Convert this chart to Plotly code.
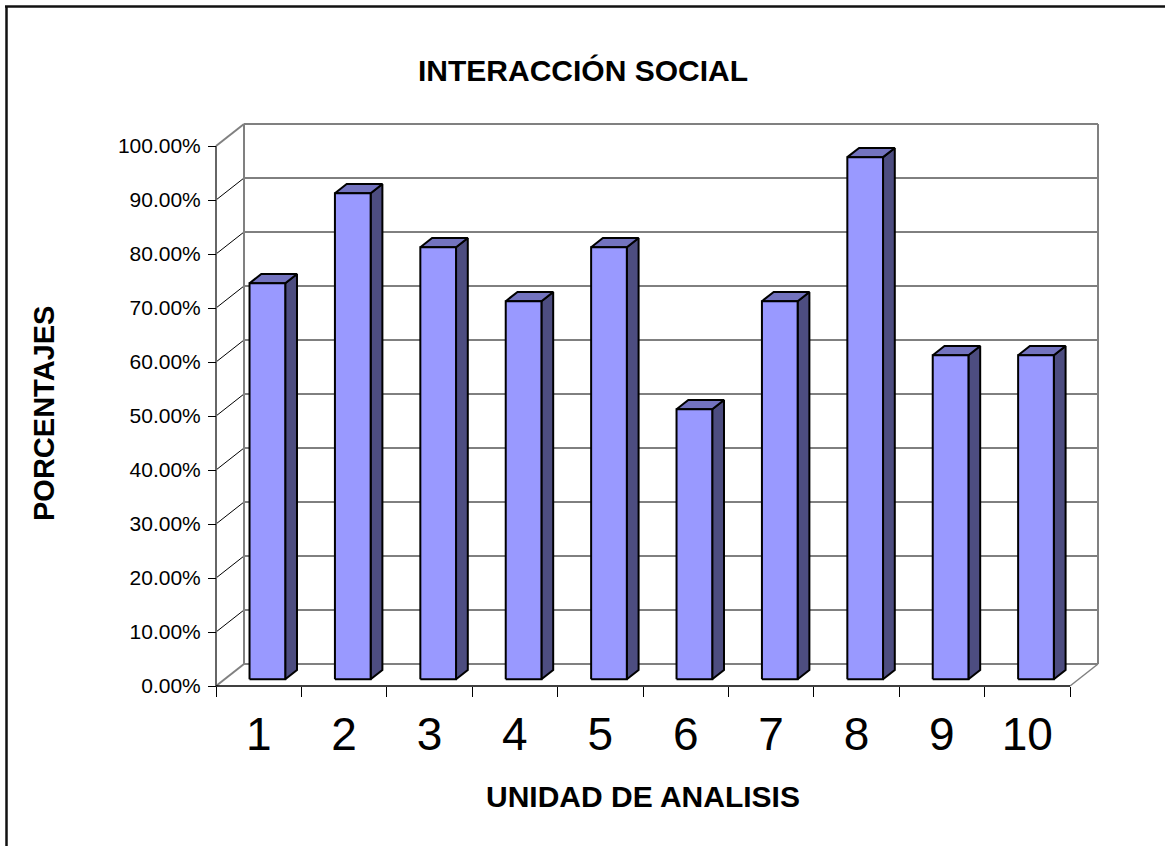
import plotly.graph_objects as go

# ---------------- data ----------------
categories = ["1", "2", "3", "4", "5", "6", "7", "8", "9", "10"]
values = [0.7333, 0.90, 0.80, 0.70, 0.80, 0.50, 0.70, 0.9667, 0.60, 0.60]
y_ticks = [0.0, 0.1, 0.2, 0.3, 0.4, 0.5, 0.6, 0.7, 0.8, 0.9, 1.0]
title_text = "INTERACCIÓN SOCIAL"
x_title = "UNIDAD DE ANALISIS"
y_title = "PORCENTAJES"

# ---------------- geometry (layout) ----------------
W, H = 1165, 846
PX_CAT = 85.4      # pixels per category on the front axis
PX_UNIT = 540.0    # pixels per 1.0 (100%)
FRONT_X0 = 216     # pixel of front-left corner
FRONT_Y0 = 686     # pixel of front baseline
ML, MR, MT, MB = 200, 55, 110, 148
plot_w = W - ML - MR
plot_h = H - MT - MB

DX = 28 / PX_CAT          # depth offset in category units
DY = 22 / PX_UNIT         # depth offset in value units
n = len(categories)

x_min = -(FRONT_X0 - ML) / PX_CAT
x_max = x_min + plot_w / PX_CAT
y_min = -((H - MB) - FRONT_Y0) / PX_UNIT
y_max = y_min + plot_h / PX_UNIT


def px_to_paper_x(px):
    return (px - ML) / plot_w


def px_to_paper_y(py):
    return ((H - MB) - py) / plot_h


FONT = "Liberation Sans, Arial, sans-serif"
FRONT_COL = "#9999FF"
TOP_COL = "#7373BF"
SIDE_COL = "#4D4D80"
WALL = "#808080"

fig = go.Figure()

# ---------------- bars (3D faces) ----------------
hw = 0.209          # half-width of bar in category units
f, b = 0.31, 0.73   # bar front / back depth fraction

def poly_trace(xs_list, ys_list, color):
    xs, ys = [], []
    for px_, py_ in zip(xs_list, ys_list):
        xs += px_ + [px_[0], None]
        ys += py_ + [py_[0], None]
    return go.Scatter(x=xs, y=ys, mode="lines", fill="toself", fillcolor=color,
                      line=dict(color="black", width=2), hoverinfo="skip",
                      showlegend=False)

front_x, front_y, top_x, top_y, side_x, side_y = [], [], [], [], [], []
for i, v in enumerate(values):
    cx = i + 0.5
    xl, xr = cx - hw, cx + hw
    front_x.append([xl + f * DX, xr + f * DX, xr + f * DX, xl + f * DX])
    front_y.append([f * DY, f * DY, v + f * DY, v + f * DY])
    top_x.append([xl + f * DX, xr + f * DX, xr + b * DX, xl + b * DX])
    top_y.append([v + f * DY, v + f * DY, v + b * DY, v + b * DY])
    side_x.append([xr + f * DX, xr + b * DX, xr + b * DX, xr + f * DX])
    side_y.append([f * DY, b * DY, v + b * DY, v + f * DY])

fig.add_trace(poly_trace(side_x, side_y, SIDE_COL))
fig.add_trace(poly_trace(top_x, top_y, TOP_COL))
fig.add_trace(poly_trace(front_x, front_y, FRONT_COL))

# ---------------- walls, floor, gridlines ----------------
shapes = []
def line(x0, y0, x1, y1, color, width):
    shapes.append(dict(type="line", xref="x", yref="y", x0=x0, y0=y0, x1=x1, y1=y1,
                       line=dict(color=color, width=width), layer="below"))

for t in y_ticks[1:-1]:
    line(DX, t + DY, n + DX, t + DY, "black", 1)      # back wall grid
    line(0, t, DX, t + DY, "black", 1)                # side wall grid
# back wall frame
line(DX, DY, n + DX, DY, WALL, 2)
line(DX, 1 + DY, n + DX, 1 + DY, WALL, 2)
line(DX, DY, DX, 1 + DY, WALL, 2)
line(n + DX, DY, n + DX, 1 + DY, WALL, 2)
# side wall / floor edges
line(0, 0, DX, DY, WALL, 2)
line(0, 1, DX, 1 + DY, WALL, 2)
line(n, 0, n + DX, DY, WALL, 1.5)
# front axes
line(0, 0, 0, 1, "#666666", 2)
line(0, 0, n, 0, "black", 1.5)

# outer chart border (left and top edges visible)
shapes.append(dict(type="line", xref="paper", yref="paper",
                   x0=px_to_paper_x(6.5), y0=px_to_paper_y(6.5),
                   x1=px_to_paper_x(6.5), y1=px_to_paper_y(H + 5),
                   line=dict(color="#111111", width=2.5)))
shapes.append(dict(type="line", xref="paper", yref="paper",
                   x0=px_to_paper_x(5), y0=px_to_paper_y(6.5),
                   x1=px_to_paper_x(W + 5), y1=px_to_paper_y(6.5),
                   line=dict(color="#111111", width=2.5)))

annotations = [
    dict(text="<b>%s</b>" % title_text, xref="paper", yref="paper",
         x=px_to_paper_x(583), y=px_to_paper_y(71), xanchor="center", yanchor="middle",
         showarrow=False, font=dict(family=FONT, size=30, color="black")),
    dict(text="<b>%s</b>" % x_title, xref="paper", yref="paper",
         x=px_to_paper_x(643), y=px_to_paper_y(796), xanchor="center", yanchor="middle",
         showarrow=False, font=dict(family=FONT, size=30, color="black")),
    dict(text="<b>%s</b>" % y_title, xref="paper", yref="paper", textangle=-90,
         x=px_to_paper_x(44), y=px_to_paper_y(414), xanchor="center", yanchor="middle",
         showarrow=False, font=dict(family=FONT, size=29, color="black")),
]

fig.update_layout(
    width=W, height=H,
    margin=dict(l=ML, r=MR, t=MT, b=MB, pad=0),
    paper_bgcolor="white", plot_bgcolor="white",
    showlegend=False,
    shapes=shapes,
    annotations=annotations,
    xaxis=dict(
        range=[x_min, x_max], anchor="free", position=px_to_paper_y(FRONT_Y0),
        tickmode="array", tickvals=[i + 0.5 for i in range(n)], ticktext=categories,
        ticks="", showgrid=False, zeroline=False, showline=False,
        tickfont=dict(family=FONT, size=46, color="black"),
        ticklabelstandoff=17,
        minor=dict(tickmode="array", tickvals=list(range(n + 1)), ticks="outside",
                   ticklen=10, tickcolor="black", tickwidth=1, showgrid=False),
        fixedrange=True,
    ),
    yaxis=dict(
        range=[y_min, y_max], anchor="free", position=px_to_paper_x(FRONT_X0),
        tickmode="array", tickvals=y_ticks, tickformat=".2%",
        ticks="outside", ticklen=8, tickcolor="black", tickwidth=1,
        ticklabelstandoff=3,
        showgrid=False, zeroline=False, showline=False,
        tickfont=dict(family=FONT, size=21, color="black"),
        fixedrange=True,
    ),
)

fig.write_html("out.html", config={"displayModeBar": False},
               post_script="document.body.style.margin='0';")
